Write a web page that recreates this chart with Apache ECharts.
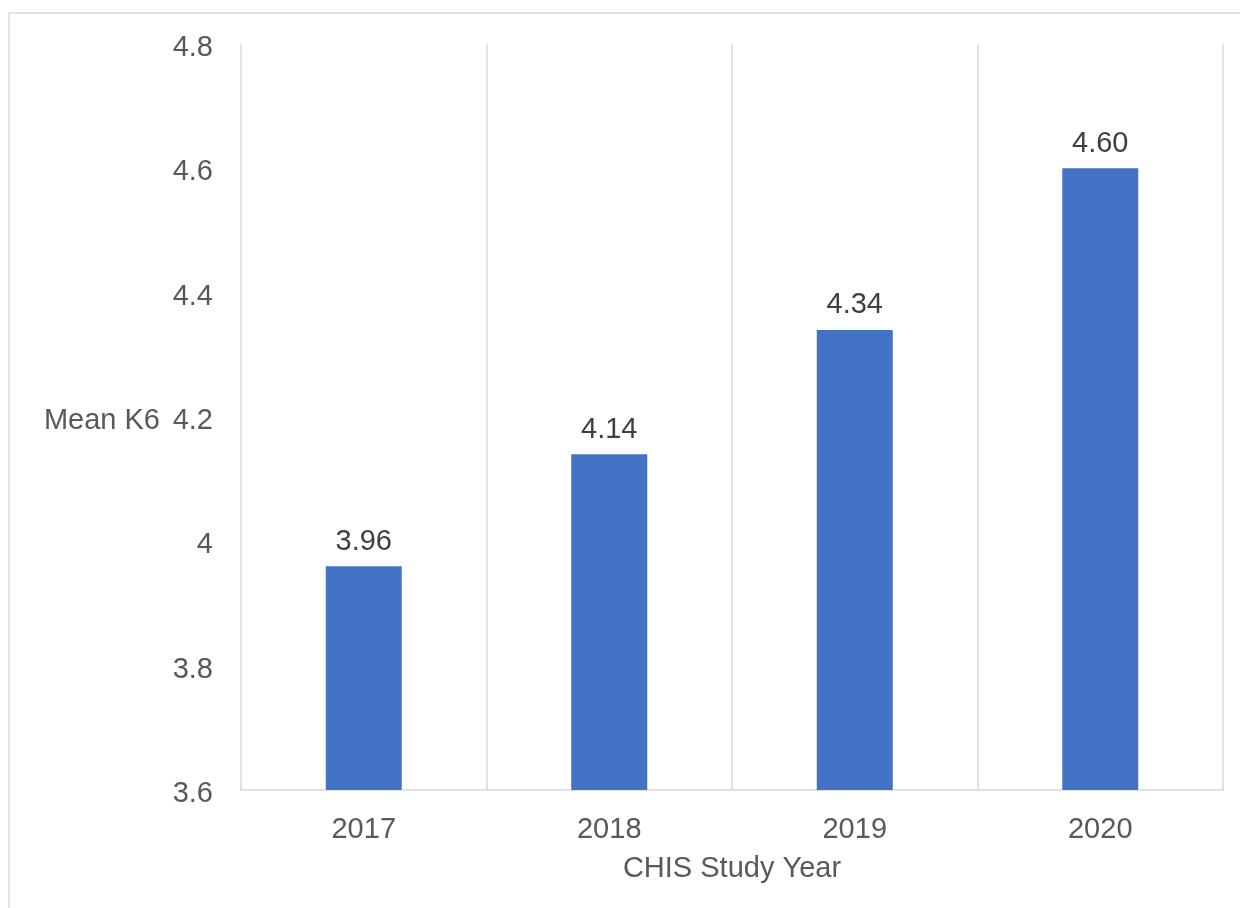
<!DOCTYPE html>
<html><head><meta charset="utf-8">
<script src="https://cdn.jsdelivr.net/npm/echarts@6/dist/echarts.min.js"></script>
<style>html,body{margin:0;padding:0;background:#fff}#c{width:1240px;height:908px}</style>
</head><body><div id="c"></div>
<script>
const categories = ['2017', '2018', '2019', '2020'];
const meanK6 = [3.96, 4.14, 4.34, 4.60];
const yMin = 3.6, yMax = 4.8, yStep = 0.2;

const chart = echarts.init(document.getElementById('c'));
const font = 'Liberation Sans, Arial, sans-serif';
const fs = 29;
chart.setOption({
  animation: false,
  graphic: [{type: 'rect', shape: {x: 9, y: 13, width: 1300, height: 1000}, style: {fill: 'none', stroke: '#d9d9d9', lineWidth: 1.5}, silent: true}],
  grid: {left: 241, right: 17, top: 44, bottom: 118},
  xAxis: {
    type: 'category', data: categories,
    name: 'CHIS Study Year', nameLocation: 'middle', nameGap: 64,
    nameTextStyle: {fontFamily: font, fontSize: fs, color: '#595959'},
    axisLine: {lineStyle: {color: '#d9d9d9', width: 1.5}},
    axisTick: {show: false},
    axisLabel: {fontFamily: font, fontSize: fs, color: '#595959', margin: 25},
    splitLine: {show: true, lineStyle: {color: '#d9d9d9', width: 1.5}}
  },
  yAxis: {
    type: 'value', min: yMin, max: yMax, interval: yStep,
    name: 'Mean K6', nameLocation: 'middle', nameRotate: 0, nameGap: 81,
    nameTextStyle: {fontFamily: font, fontSize: fs, color: '#595959', align: 'right', verticalAlign: 'top', lineHeight: 8},
    axisLine: {show: false}, axisTick: {show: false},
    axisLabel: {fontFamily: font, fontSize: fs, color: '#595959', margin: 28, verticalAlign: 'top', lineHeight: 8},
    splitLine: {show: false}
  },
  series: [{
    type: 'bar', data: meanK6, barWidth: 76,
    itemStyle: {color: '#4472C4'},
    label: {show: true, position: 'top', distance: 10, fontFamily: font, fontSize: fs, color: '#404040',
      formatter: p => p.value.toFixed(2)}
  }]
});
</script></body></html>
